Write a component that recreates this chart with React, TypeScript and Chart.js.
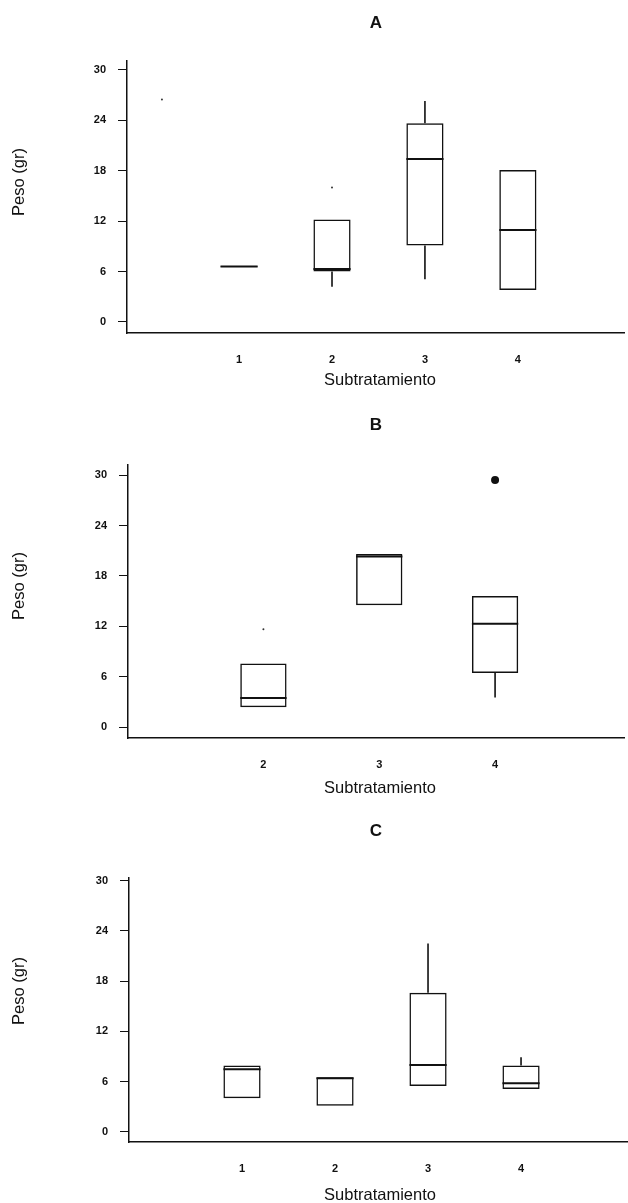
import React, { useEffect, useRef } from "react";
import { Chart, registerables } from "chart.js";

Chart.register(...registerables);

// ---- Data ----
const yTickValues = [0, 6, 12, 18, 24, 30];
const yAxisLabel = "Peso (gr)";
const xAxisLabel = "Subtratamiento";

// Panel A
const catsA = [1, 2, 3, 4];
const q1A = [6.55, 6.0, 9.1, 3.8];
const medA = [6.6, 6.3, 19.4, 10.95];
const q3A = [6.65, 12.2, 23.65, 18.1];
const lowA: (number | null)[] = [null, 4.2, 5.1, null];
const highA: (number | null)[] = [null, null, 26.3, null];
const outXA: number[] = [];
const outYA: number[] = [];
const speckXA = [0.17, 2];
const speckYA = [26.5, 16.0];

// Panel B
const catsB = [2, 3, 4];
const q1B = [2.4, 14.5, 6.45];
const medB = [3.5, 20.3, 12.3];
const q3B = [7.6, 20.6, 15.6];
const lowB: (number | null)[] = [null, null, 3.55];
const highB: (number | null)[] = [null, null, null];
const outXB = [4];
const outYB = [29.4];
const speckXB = [2];
const speckYB = [11.65];

// Panel C
const catsC = [1, 2, 3, 4];
const q1C = [4.0, 3.1, 5.45, 5.1];
const medC = [7.45, 6.4, 7.97, 5.8];
const q3C = [7.9, 6.5, 16.6, 7.9];
const lowC: (number | null)[] = [null, null, null, null];
const highC: (number | null)[] = [null, null, 22.5, 8.9];
const outXC: number[] = [];
const outYC: number[] = [];
const speckXC: number[] = [];
const speckYC: number[] = [];

type PanelData = {
  title: string;
  cats: number[];
  q1: number[];
  med: number[];
  q3: number[];
  low: (number | null)[];
  high: (number | null)[];
  outX: number[];
  outY: number[];
  speckX: number[];
  speckY: number[];
};

type PanelLayout = {
  top: number;
  height: number;
  areaTop: number;
  axisLeft: number;
  areaBottom: number;
  yMin: number;
  yMax: number;
  xMin: number;
  xMax: number;
  titleY: number;
  yLabelX: number;
  yLabelY: number;
  xLabelY: number;
};

const panels: { data: PanelData; layout: PanelLayout }[] = [
  {
    data: { title: "A", cats: catsA, q1: q1A, med: medA, q3: q3A, low: lowA, high: highA, outX: outXA, outY: outYA, speckX: speckXA, speckY: speckYA },
    layout: { top: 0, height: 400, areaTop: 61, axisLeft: 127, areaBottom: 333, yMin: -1.31, yMax: 31.07, xMin: -0.206, xMax: 5.142, titleY: 23, yLabelX: 19, yLabelY: 182, xLabelY: 380 },
  },
  {
    data: { title: "B", cats: catsB, q1: q1B, med: medB, q3: q3B, low: lowB, high: highB, outX: outXB, outY: outYB, speckX: speckXB, speckY: speckYB },
    layout: { top: 400, height: 400, areaTop: 65, axisLeft: 128, areaBottom: 338, yMin: -1.27, yMax: 31.19, xMin: 0.831, xMax: 5.113, titleY: 25, yLabelX: 19, yLabelY: 186, xLabelY: 388 },
  },
  {
    data: { title: "C", cats: catsC, q1: q1C, med: medC, q3: q3C, low: lowC, high: highC, outX: outXC, outY: outYC, speckX: speckXC, speckY: speckYC },
    layout: { top: 800, height: 403, areaTop: 78, axisLeft: 129, areaBottom: 342, yMin: -1.23, yMax: 30.32, xMin: -0.215, xMax: 5.15, titleY: 31, yLabelX: 19, yLabelY: 191, xLabelY: 395 },
  },
];

const WIDTH = 628;
const HALF_BOX = 0.2;
const FONT = '"Liberation Sans", Arial, Helvetica, sans-serif';

const textPlugin = {
  id: "panelText",
  afterDraw(chart: any, _args: any, opts: any) {
    const ctx = chart.ctx as CanvasRenderingContext2D;
    ctx.save();
    ctx.fillStyle = "#111";
    ctx.textAlign = "center";
    ctx.textBaseline = "middle";
    ctx.font = `bold 17px ${FONT}`;
    ctx.fillText(opts.title, 376, opts.titleY);
    ctx.font = `16.5px ${FONT}`;
    ctx.fillText(opts.xLabel, 380, opts.xLabelY);
    ctx.translate(opts.yLabelX, opts.yLabelY);
    ctx.rotate(-Math.PI / 2);
    ctx.fillText(opts.yLabel, 0, 0);
    ctx.restore();
  },
};

function buildConfig(d: PanelData, L: PanelLayout): any {
  const boxData = d.cats.map((c, i) => ({ x: c, y: [d.q1[i], d.q3[i]] }));
  const medData: any[] = [];
  d.cats.forEach((c, i) => {
    medData.push({ x: c - HALF_BOX, y: d.med[i] }, { x: c + HALF_BOX, y: d.med[i] }, { x: c, y: null });
  });
  const whiskerData: any[] = [];
  d.cats.forEach((c, i) => {
    const lo = d.low[i];
    const hi = d.high[i];
    if (lo !== null) whiskerData.push({ x: c, y: d.q1[i] }, { x: c, y: lo }, { x: c, y: null });
    if (hi !== null) whiskerData.push({ x: c, y: d.q3[i] }, { x: c, y: hi }, { x: c, y: null });
  });
  const outData = d.outX.map((x, i) => ({ x, y: d.outY[i] }));
  const speckData = d.speckX.map((x, i) => ({ x, y: d.speckY[i] }));

  return {
    type: "scatter",
    data: {
      datasets: [
        {
          type: "bar",
          data: boxData,
          backgroundColor: "rgba(0,0,0,0)",
          borderColor: "#111",
          borderWidth: 1.5,
          borderSkipped: false,
          barPercentage: 0.5,
          categoryPercentage: 0.8,
        },
        {
          type: "scatter",
          data: medData,
          showLine: true,
          spanGaps: false,
          borderColor: "#111",
          borderWidth: 2,
          pointRadius: 0,
        },
        {
          type: "scatter",
          data: whiskerData,
          showLine: true,
          spanGaps: false,
          borderColor: "#111",
          borderWidth: 1.6,
          pointRadius: 0,
        },
        {
          type: "scatter",
          data: outData,
          pointRadius: 4,
          pointBackgroundColor: "#111",
          pointBorderWidth: 0,
        },
        {
          type: "scatter",
          data: speckData,
          pointRadius: 1,
          pointBackgroundColor: "#333",
          pointBorderWidth: 0,
        },
      ],
    },
    options: {
      responsive: false,
      maintainAspectRatio: false,
      animation: false,
      events: [],
      layout: { padding: { top: L.areaTop, left: 0, right: 0, bottom: 0 } },
      plugins: {
        legend: { display: false },
        tooltip: { enabled: false },
        panelText: {
          title: d.title,
          xLabel: xAxisLabel,
          yLabel: yAxisLabel,
          titleY: L.titleY,
          yLabelX: L.yLabelX,
          yLabelY: L.yLabelY,
          xLabelY: L.xLabelY,
        },
      },
      scales: {
        x: {
          type: "linear",
          offset: false,
          min: L.xMin,
          max: L.xMax,
          afterBuildTicks: (s: any) => {
            s.ticks = d.cats.map((v) => ({ value: v }));
          },
          afterFit: (s: any) => {
            s.height = L.height - L.areaBottom;
          },
          grid: { display: false, offset: false },
          border: { display: true, color: "#111", width: 1.5 },
          ticks: {
            padding: 12,
            color: "#111",
            font: { family: FONT, size: 11, weight: "bold" },
            callback: (v: any) => String(v),
            autoSkip: false,
            maxRotation: 0,
          },
        },
        y: {
          type: "linear",
          min: L.yMin,
          max: L.yMax,
          afterBuildTicks: (s: any) => {
            s.ticks = yTickValues.map((v) => ({ value: v }));
          },
          afterFit: (s: any) => {
            s.width = L.axisLeft;
          },
          grid: {
            display: true,
            drawOnChartArea: false,
            drawTicks: true,
            tickLength: 9,
            color: "#111",
            lineWidth: 1,
          },
          border: { display: true, color: "#111", width: 1.5 },
          ticks: {
            padding: 12,
            color: "#111",
            font: { family: FONT, size: 11, weight: "bold" },
            callback: (v: any) => String(v),
          },
        },
      },
    },
    plugins: [textPlugin],
  };
}

function PanelChart({ data, layout }: { data: PanelData; layout: PanelLayout }) {
  const ref = useRef<HTMLCanvasElement | null>(null);
  useEffect(() => {
    if (!ref.current) return;
    const chart = new Chart(ref.current, buildConfig(data, layout));
    return () => chart.destroy();
  }, [data, layout]);
  return (
    <div style={{ position: "absolute", left: 0, top: layout.top, width: WIDTH, height: layout.height }}>
      <canvas ref={ref} width={WIDTH} height={layout.height} style={{ width: WIDTH, height: layout.height, display: "block" }} />
    </div>
  );
}

export default function App() {
  return (
    <div style={{ position: "absolute", left: 0, top: 0, width: WIDTH, height: 1203, background: "#fff", overflow: "hidden" }}>
      {panels.map((p, i) => (
        <PanelChart key={i} data={p.data} layout={p.layout} />
      ))}
    </div>
  );
}
